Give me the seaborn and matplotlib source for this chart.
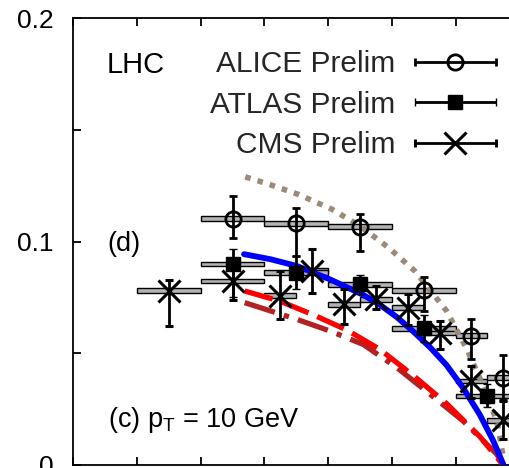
import numpy as np
import matplotlib
matplotlib.use("Agg")
import matplotlib.pyplot as plt
import seaborn as sns
from matplotlib.container import ErrorbarContainer
from matplotlib.legend_handler import HandlerErrorbar

# ---- measured v2 vs centrality (%) : bin edges, values, stat. errors ----
alice_lo = [20, 30, 40, 50, 60, 65]
alice_hi = [30, 40, 50, 60, 65, 70]
alice_v2 = [0.1103, 0.1082, 0.1066, 0.0782, 0.0578, 0.0391]
alice_up = [0.0102, 0.0069, 0.0057, 0.0060, 0.0075, 0.0101]
alice_dn = [0.0085, 0.0145, 0.0107, 0.0093, 0.0104, 0.0100]

atlas_lo = [20, 30, 40, 50, 60]
atlas_hi = [30, 40, 50, 60, 70]
atlas_v2 = [0.0900, 0.0861, 0.0809, 0.0612, 0.0309]
atlas_up = [0.0069, 0.0075, 0.0043, 0.0060, 0.0054]
atlas_dn = [0.0146, 0.0075, 0.0045, 0.0060, 0.0050]

cms_lo = [10, 20, 30, 35, 40, 45, 50, 55, 60, 65]
cms_hi = [20, 30, 35, 40, 45, 50, 55, 60, 65, 70]
cms_v2 = [0.0780, 0.0824, 0.0757, 0.0869, 0.0720, 0.0742, 0.0704, 0.0593, 0.0376, 0.0200]
cms_up = [0.0048, 0.0085, 0.0112, 0.0097, 0.0067, 0.0060, 0.0060, 0.0052, 0.0067, 0.0086]
cms_dn = [0.0157, 0.0085, 0.0104, 0.0097, 0.0087, 0.0045, 0.0075, 0.0075, 0.0075, 0.0085]

sys_half = 0.0011  # half height of the systematic-uncertainty boxes

# ---- model curves ----
blue_x = [26.8, 31.0, 35.1, 40.3, 45.5, 48.1, 50.8, 53.4, 56.0, 58.6, 61.2, 63.8, 65.9, 67.5]
blue_y = [0.0944, 0.0921, 0.0891, 0.0831, 0.0762, 0.0718, 0.0662, 0.0597, 0.0527, 0.0447, 0.0345, 0.0226, 0.0110, 0.0003]

red_x = [26.9, 32.4, 37.7, 42.9, 48.1, 53.4, 58.6, 63.8, 66.9, 67.4]
red_y = [0.0779, 0.0734, 0.0672, 0.0605, 0.0518, 0.0400, 0.0275, 0.0128, 0.0020, 0.0]

dred_x = [26.9, 35.1, 40.3, 45.5, 50.8, 56.0, 61.2, 66.5, 67.4]
dred_y = [0.0727, 0.0652, 0.0600, 0.0540, 0.0436, 0.0317, 0.0197, 0.0048, 0.0]

brown_x = [27.0, 30.4, 35.3, 40.6, 45.0, 49.5, 53.6, 58.6, 61.8, 63.8, 65.9, 66.7, 67.4]
brown_y = [0.129, 0.126, 0.1212, 0.1145, 0.1070, 0.0973, 0.0869, 0.0690, 0.0518, 0.0390, 0.0242, 0.0167, 0.005]

sns.set_theme(style="ticks")
plt.rcParams["font.family"] = ["Liberation Sans", "DejaVu Sans"]
plt.rcParams["mathtext.fontset"] = "custom"
plt.rcParams["mathtext.rm"] = "Liberation Sans"

fig = plt.figure(figsize=(5.10, 4.68), dpi=100)
ax = fig.add_axes([73.3 / 510, 3 / 468, 80 * 6.37 / 510, 446.7 / 468])
ax.set_xlim(0, 80)
ax.set_ylim(0, 0.2)

# model curves
sns.lineplot(x=brown_x, y=brown_y, ax=ax, color="#9b8a78", lw=4.0,
             linestyle=(0, (1.0, 1.3)), dash_capstyle="butt",
             estimator=None, sort=False, zorder=2.5)
sns.lineplot(x=dred_x, y=dred_y, ax=ax, color="#b22222", lw=3.8,
             linestyle=(0, (6.0, 1.8, 1.0, 1.8)), dash_capstyle="butt",
             estimator=None, sort=False, zorder=2.5)
sns.lineplot(x=red_x, y=red_y, ax=ax, color="#ff0000", lw=3.8,
             linestyle=(0, (5.5, 1.8)), dash_capstyle="butt",
             estimator=None, sort=False, zorder=2.6)
sns.lineplot(x=blue_x, y=blue_y, ax=ax, color="#0000ff", lw=4.2,
             estimator=None, sort=False, zorder=2.7)

box_kw = dict(color="#b3b3b3", edgecolor="black", linewidth=1.0, zorder=2)
err_kw = dict(ecolor="black", elinewidth=2.0, capsize=3, capthick=2.0, zorder=3,
              linestyle="none")

def draw_set(lo, hi, v2, up, dn, marker_kw):
    lo = np.asarray(lo, float)
    hi = np.asarray(hi, float)
    v2 = np.asarray(v2, float)
    centers = 0.5 * (lo + hi)
    ax.bar(centers, 2 * sys_half, bottom=v2 - sys_half, width=hi - lo, **box_kw)
    ax.errorbar(centers, v2, yerr=[dn, up], **marker_kw, **err_kw)

alice_mk = dict(marker="o", ms=11, mfc="none", mec="black", mew=2.0)
atlas_mk = dict(marker="s", ms=10, mfc="black", mec="black", mew=1.0)
cms_mk = dict(marker="x", ms=16, mec="black", mew=2.2)

draw_set(cms_lo, cms_hi, cms_v2, cms_up, cms_dn, cms_mk)
draw_set(atlas_lo, atlas_hi, atlas_v2, atlas_up, atlas_dn, atlas_mk)
draw_set(alice_lo, alice_hi, alice_v2, alice_up, alice_dn, alice_mk)

# legend entries drawn as horizontal error bars
handles = []
for mk in (alice_mk, atlas_mk, cms_mk):
    handles.append(ax.errorbar([np.nan], [np.nan], xerr=[[1.0], [1.0]],
                               **mk, **err_kw))
leg = ax.legend(handles, ["ALICE Prelim", "ATLAS Prelim", "CMS Prelim"],
                handler_map={ErrorbarContainer: HandlerErrorbar(xerr_size=1.35)},
                loc="upper right", bbox_to_anchor=(495.7 / 510, 1 - 50 / 468),
                bbox_transform=fig.transFigure, frameon=False, markerfirst=False,
                handlelength=2.7, handletextpad=0.67, labelspacing=0.42,
                borderpad=0, borderaxespad=0, fontsize=21.5, numpoints=1)

ax.text(0.066, 0.877, "LHC", transform=ax.transAxes, fontsize=21,
        ha="left", va="baseline", color="black")
ax.text(0.066, 0.4797, "(d)", transform=ax.transAxes, fontsize=19.5,
        ha="left", va="baseline", color="black")
ax.text(0.068, 0.0857, r"(c) p$_\mathrm{T}$ = 10 GeV", transform=ax.transAxes,
        fontsize=19.5, ha="left", va="baseline", color="black")

# axes styling
ax.set_xticks(np.arange(0, 81, 10))
ax.set_yticks([0, 0.05, 0.1, 0.15, 0.2])
ax.set_yticklabels(["0", "", "0.1", "", "0.2"])
ax.tick_params(axis="both", direction="in", length=6, width=1.3, colors="black",
               top=True, right=True, labelbottom=False)
ax.tick_params(axis="y", labelsize=19, pad=14)
for s in ax.spines.values():
    s.set_linewidth(1.3)
    s.set_color("black")
ax.set_xlabel("")
ax.set_ylabel("")

fig.savefig("out.png", dpi=100)
